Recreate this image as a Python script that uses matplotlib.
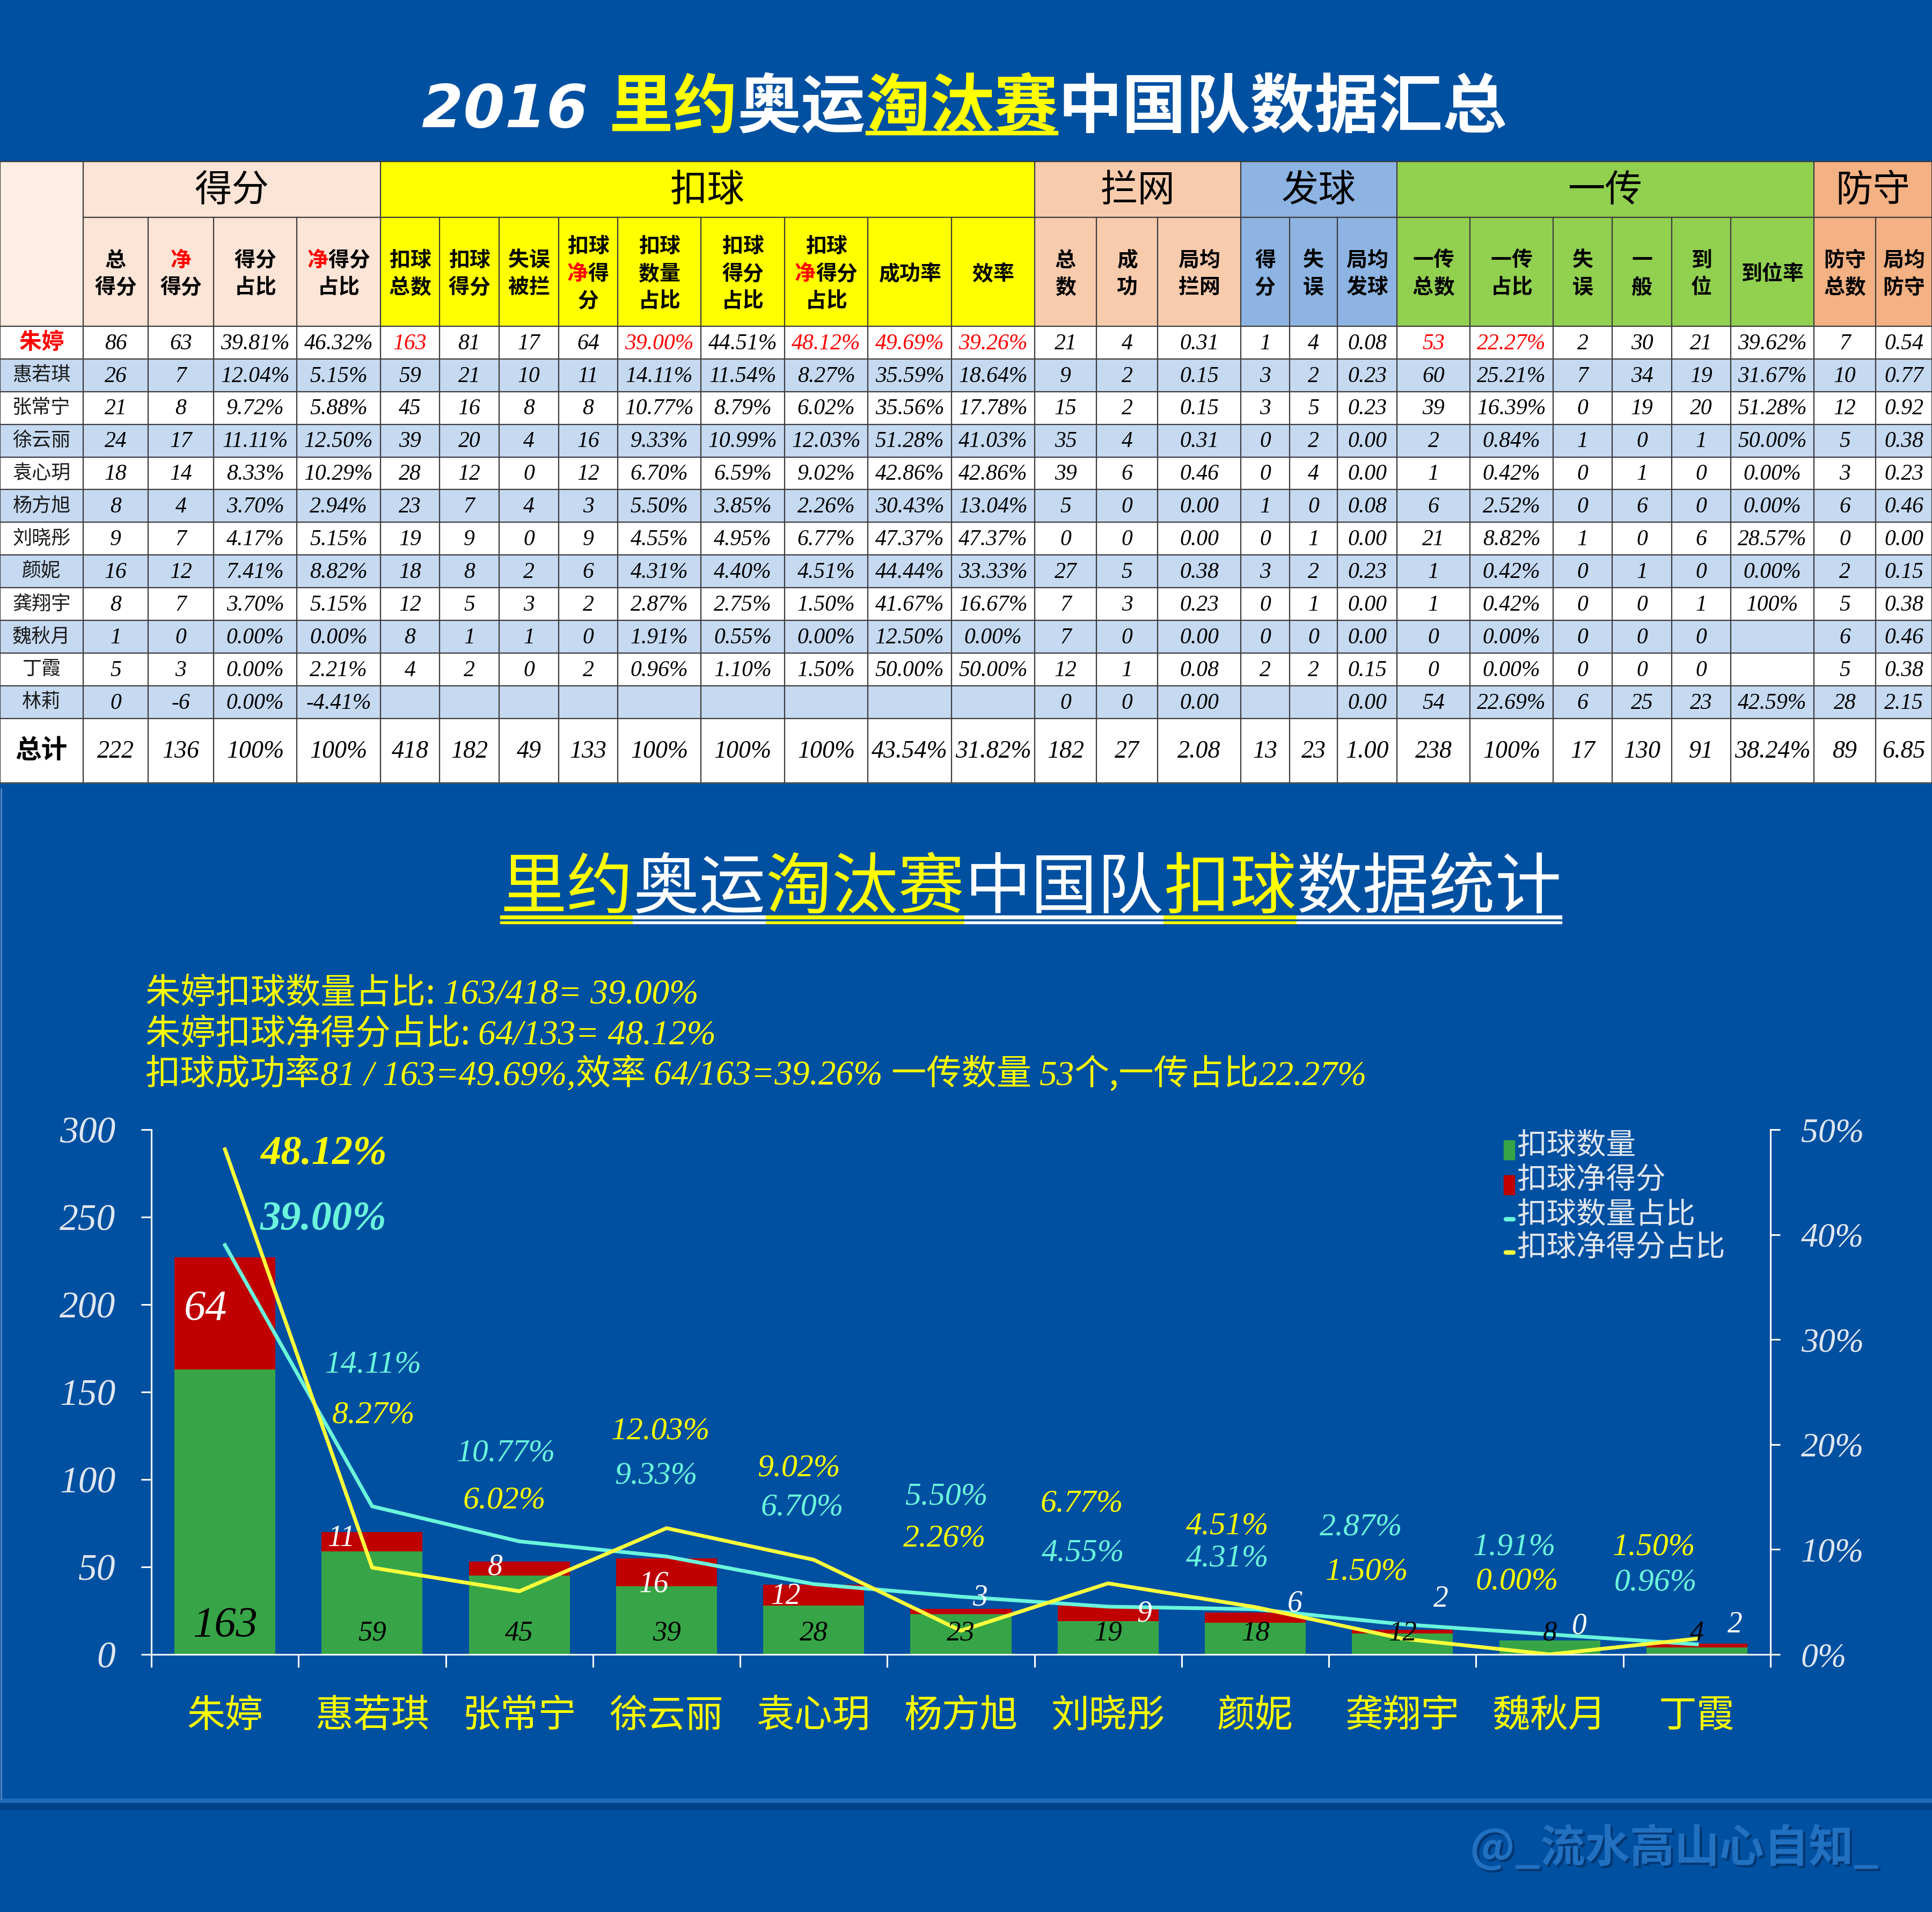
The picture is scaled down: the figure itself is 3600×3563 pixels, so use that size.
import numpy as np
import matplotlib
matplotlib.use('Agg')
import matplotlib.pyplot as plt
import matplotlib.patheffects as pe
from matplotlib.patches import Rectangle
from matplotlib.font_manager import FontProperties

# ---------------- data ----------------
players = ['朱婷', '惠若琪', '张常宁', '徐云丽', '袁心玥', '杨方旭',
           '刘晓彤', '颜妮', '龚翔宇', '魏秋月', '丁霞', '林莉']

# 得分
pts_total = [86, 26, 21, 24, 18, 8, 9, 16, 8, 1, 5, 0]
pts_net = [63, 7, 8, 17, 14, 4, 7, 12, 7, 0, 3, -6]
pts_share = [39.81, 12.04, 9.72, 11.11, 8.33, 3.70, 4.17, 7.41, 3.70, 0.00, 0.00, 0.00]
pts_net_share = [46.32, 5.15, 5.88, 12.50, 10.29, 2.94, 5.15, 8.82, 5.15, 0.00, 2.21, -4.41]
pts_totals = [222, 136, 100, 100]

# 扣球
spike_total = [163, 59, 45, 39, 28, 23, 19, 18, 12, 8, 4, None]
spike_pts = [81, 21, 16, 20, 12, 7, 9, 8, 5, 1, 2, None]
spike_err = [17, 10, 8, 4, 0, 4, 0, 2, 3, 1, 0, None]
spike_net = [64, 11, 8, 16, 12, 3, 9, 6, 2, 0, 2, None]
spike_share = [39.00, 14.11, 10.77, 9.33, 6.70, 5.50, 4.55, 4.31, 2.87, 1.91, 0.96, None]
spike_pts_share = [44.51, 11.54, 8.79, 10.99, 6.59, 3.85, 4.95, 4.40, 2.75, 0.55, 1.10, None]
spike_net_share = [48.12, 8.27, 6.02, 12.03, 9.02, 2.26, 6.77, 4.51, 1.50, 0.00, 1.50, None]
spike_rate = [49.69, 35.59, 35.56, 51.28, 42.86, 30.43, 47.37, 44.44, 41.67, 12.50, 50.00, None]
spike_eff = [39.26, 18.64, 17.78, 41.03, 42.86, 13.04, 47.37, 33.33, 16.67, 0.00, 50.00, None]
spike_totals = [418, 182, 49, 133, 100, 100, 100, 43.54, 31.82]

# 拦网
block_total = [21, 9, 15, 35, 39, 5, 0, 27, 7, 7, 12, 0]
block_ok = [4, 2, 2, 4, 6, 0, 0, 5, 3, 0, 1, 0]
block_avg = [0.31, 0.15, 0.15, 0.31, 0.46, 0.00, 0.00, 0.38, 0.23, 0.00, 0.08, 0.00]
block_totals = [182, 27, 2.08]

# 发球
serve_pts = [1, 3, 3, 0, 0, 1, 0, 3, 0, 0, 2, None]
serve_err = [4, 2, 5, 2, 4, 0, 1, 2, 1, 0, 2, None]
serve_avg = [0.08, 0.23, 0.23, 0.00, 0.00, 0.08, 0.00, 0.23, 0.00, 0.00, 0.15, 0.00]
serve_totals = [13, 23, 1.00]

# 一传
recv_total = [53, 60, 39, 2, 1, 6, 21, 1, 1, 0, 0, 54]
recv_share = [22.27, 25.21, 16.39, 0.84, 0.42, 2.52, 8.82, 0.42, 0.42, 0.00, 0.00, 22.69]
recv_err = [2, 7, 0, 1, 0, 0, 1, 0, 0, 0, 0, 6]
recv_ok = [30, 34, 19, 0, 1, 6, 0, 1, 0, 0, 0, 25]
recv_good = [21, 19, 20, 1, 0, 0, 6, 0, 1, 0, 0, 23]
recv_good_rate = [39.62, 31.67, 51.28, 50.00, 0.00, 0.00, 28.57, 0.00, 100, None, None, 42.59]
recv_totals = [238, 100, 17, 130, 91, 38.24]

# 防守
dig_total = [7, 10, 12, 5, 3, 6, 0, 2, 5, 6, 5, 28]
dig_avg = [0.54, 0.77, 0.92, 0.38, 0.23, 0.46, 0.00, 0.15, 0.38, 0.46, 0.38, 2.15]
dig_totals = [89, 6.85]

# ---------------- style ----------------
BG = '#0050A1'
YEL = '#FFFF00'
WHITE = '#FFFFFF'
RED = '#FF0000'
AXC = '#E1E6EF'
CYAN = '#6AF5DC'
LYEL = '#FFFF3C'
GREEN = '#37A547'
DRED = '#C00000'
CJK = 'Noto Sans CJK SC'
SERIF = 'Liberation Serif'

W, H = 3600, 3563
fig = plt.figure(figsize=(W / 100, H / 100), dpi=100)
fig.patch.set_facecolor(BG)
bg = fig.add_axes([0, 0, 1, 1])
bg.set_xlim(0, W)
bg.set_ylim(H, 0)
bg.axis('off')
renderer = fig.canvas.get_renderer()


def fp(size, family=CJK, weight='normal', style='normal'):
    return FontProperties(family=family, size=size, weight=weight, style=style)


def draw_runs(x, y, parts, ha='left'):
    # draw text pieces side by side on a common baseline, return x spans
    texts, widths = [], []
    for s, color, prop in parts:
        t = bg.text(0, y, s, color=color, fontproperties=prop, ha='left', va='baseline')
        texts.append(t)
        widths.append(t.get_window_extent(renderer).width)
    x0 = x - sum(widths) / 2 if ha == 'center' else x
    spans = []
    for t, w in zip(texts, widths):
        t.set_x(x0)
        spans.append((x0, x0 + w))
        x0 += w
    return spans


def cjk_line(xc, y, s, size, color='black', weight='bold'):
    # one header line, char by char so that 净 can be red
    em = size * 100 / 72
    x0 = xc - len(s) * em / 2
    for k, ch in enumerate(s):
        bg.text(x0 + (k + 0.5) * em, y, ch, ha='center', va='center', fontsize=size,
                color=RED if ch == '净' else color, family=CJK, weight=weight)


def fmt(v, kind):
    if v is None:
        return ''
    if kind == 'p':
        return '100%' if v == 100 else f'{v:.2f}%'
    if kind == 'd':
        return f'{v:.2f}'
    return str(v)


# ---------------- title ----------------
spans = draw_runs(1797, 237, [
    ('2016 ', WHITE, fp(80, 'DejaVu Sans', 'bold', 'italic')),
    ('里约', YEL, fp(86, weight='bold')),
    ('奥运', WHITE, fp(86, weight='bold')),
    ('淘汰赛', YEL, fp(86, weight='bold')),
    ('中国队数据汇总', WHITE, fp(86, weight='bold')),
], ha='center')
bg.add_patch(Rectangle((spans[3][0], 244), spans[3][1] - spans[3][0], 7, color=YEL))

# ---------------- table ----------------
col_edges = [0, 155, 276, 398, 553, 709, 819, 930, 1041, 1151, 1306, 1462, 1617, 1773,
             1928, 2043, 2157, 2312, 2403, 2492, 2603, 2739, 2894, 3004, 3115, 3225, 3380, 3495, 3600]
T0, T1, T2 = 301, 405, 608
ROW_H = 60.9
T3 = T2 + 12 * ROW_H
T4 = 1459

groups = [('得分', 1, 5, '#FCE4D6'), ('扣球', 5, 14, '#FFFF00'), ('拦网', 14, 17, '#F8CBAD'),
          ('发球', 17, 20, '#8DB4E2'), ('一传', 20, 26, '#92D050'), ('防守', 26, 28, '#F4B183')]

columns = [
    ('总\n得分', pts_total, pts_totals[0], 'i', False),
    ('净\n得分', pts_net, pts_totals[1], 'i', False),
    ('得分\n占比', pts_share, pts_totals[2], 'p', False),
    ('净得分\n占比', pts_net_share, pts_totals[3], 'p', False),
    ('扣球\n总数', spike_total, spike_totals[0], 'i', True),
    ('扣球\n得分', spike_pts, spike_totals[1], 'i', False),
    ('失误\n被拦', spike_err, spike_totals[2], 'i', False),
    ('扣球\n净得\n分', spike_net, spike_totals[3], 'i', False),
    ('扣球\n数量\n占比', spike_share, spike_totals[4], 'p', True),
    ('扣球\n得分\n占比', spike_pts_share, spike_totals[5], 'p', False),
    ('扣球\n净得分\n占比', spike_net_share, spike_totals[6], 'p', True),
    ('成功率', spike_rate, spike_totals[7], 'p', True),
    ('效率', spike_eff, spike_totals[8], 'p', True),
    ('总\n数', block_total, block_totals[0], 'i', False),
    ('成\n功', block_ok, block_totals[1], 'i', False),
    ('局均\n拦网', block_avg, block_totals[2], 'd', False),
    ('得\n分', serve_pts, serve_totals[0], 'i', False),
    ('失\n误', serve_err, serve_totals[1], 'i', False),
    ('局均\n发球', serve_avg, serve_totals[2], 'd', False),
    ('一传\n总数', recv_total, recv_totals[0], 'i', True),
    ('一传\n占比', recv_share, recv_totals[1], 'p', True),
    ('失\n误', recv_err, recv_totals[2], 'i', False),
    ('一\n般', recv_ok, recv_totals[3], 'i', False),
    ('到\n位', recv_good, recv_totals[4], 'i', False),
    ('到位率', recv_good_rate, recv_totals[5], 'p', False),
    ('防守\n总数', dig_total, dig_totals[0], 'i', False),
    ('局均\n防守', dig_avg, dig_totals[1], 'd', False),
]

# backgrounds
bg.add_patch(Rectangle((0, T0), col_edges[1], T2 - T0, color='#FDEDE3', zorder=1))
for name, a, b, c in groups:
    bg.add_patch(Rectangle((col_edges[a], T0), col_edges[b] - col_edges[a], T2 - T0, color=c, zorder=1))
    bg.text((col_edges[a] + col_edges[b]) / 2, (T0 + T1) / 2 + 2, name, ha='center', va='center',
            fontsize=50, family=CJK, color='black', zorder=3)
for i in range(12):
    c = '#C5D9F1' if i % 2 == 1 else 'white'
    bg.add_patch(Rectangle((0, T2 + i * ROW_H), W, ROW_H, color=c, zorder=1))
bg.add_patch(Rectangle((0, T3), W, T4 - T3, color='white', zorder=1))

# grid
GC = '#3C3C3C'
group_edges = [g[1] for g in groups] + [28]
for k, xe in enumerate(col_edges):
    top = T0 if k in group_edges or k == 0 else T1
    bg.plot([xe, xe], [top, T4], color=GC, lw=1.6, zorder=2)
bg.plot([0, W], [T0, T0], color=GC, lw=1.6, zorder=2)
bg.plot([col_edges[1], W], [T1, T1], color=GC, lw=1.6, zorder=2)
for i in range(13):
    bg.plot([0, W], [T2 + i * ROW_H] * 2, color=GC, lw=1.6, zorder=2)
bg.plot([0, W], [T4, T4], color=GC, lw=1.6, zorder=2)

# sub headers
for j, (lab, vals, tot, kind, red0) in enumerate(columns):
    xc = (col_edges[j + 1] + col_edges[j + 2]) / 2
    lines = lab.split('\n')
    yc = (T1 + T2) / 2 + 4
    for k, ln in enumerate(lines):
        cjk_line(xc, yc + (k - (len(lines) - 1) / 2) * 51, ln, 28)

# names
for i, nm in enumerate(players):
    yc = T2 + (i + 0.5) * ROW_H
    if i == 0:
        bg.text(col_edges[1] / 2, yc, nm, ha='center', va='center', fontsize=30,
                family=CJK, weight='bold', color=RED, zorder=3)
    else:
        bg.text(col_edges[1] / 2, yc, nm, ha='center', va='center', fontsize=26,
                family=CJK, color='#1A1A1A', zorder=3)
bg.text(col_edges[1] / 2, (T3 + T4) / 2, '总计', ha='center', va='center', fontsize=35,
        family=CJK, weight='bold', color='black', zorder=3)

# values
for j, (lab, vals, tot, kind, red0) in enumerate(columns):
    xc = (col_edges[j + 1] + col_edges[j + 2]) / 2
    for i, v in enumerate(vals):
        yc = T2 + (i + 0.5) * ROW_H
        col = RED if (i == 0 and red0) else 'black'
        bg.text(xc, yc + 2, fmt(v, kind), ha='center', va='center', fontsize=30,
                family=SERIF, style='italic', color=col, zorder=3)
    bg.text(xc, (T3 + T4) / 2 + 2, fmt(tot, kind), ha='center', va='center', fontsize=33,
            family=SERIF, style='italic', color='black', zorder=3)

# ---------------- chart title and notes ----------------
tprop = fp(89)
spans = draw_runs(1921, 1692, [('里约', YEL, tprop), ('奥运', WHITE, tprop), ('淘汰赛', YEL, tprop),
                               ('中国队', WHITE, tprop), ('扣球', YEL, tprop), ('数据统计', WHITE, tprop)],
                  ha='center')
for (a, b), c in zip(spans, [YEL, WHITE, YEL, WHITE, YEL, WHITE]):
    bg.add_patch(Rectangle((a, 1706), b - a, 6, color=c))
    bg.add_patch(Rectangle((a, 1717), b - a, 4, color=c))

nc = fp(47)
nn = fp(47, SERIF, style='italic')
n_tot = sum(v for v in spike_total if v)
n_net = sum(v for v in spike_net if v is not None)
draw_runs(271, 1870, [('朱婷扣球数量占比: ', YEL, nc),
                      (f'{spike_total[0]}/{n_tot}= {spike_share[0]:.2f}%', YEL, nn)])
draw_runs(271, 1946, [('朱婷扣球净得分占比: ', YEL, nc),
                      (f'{spike_net[0]}/{n_net}= {spike_net_share[0]:.2f}%', YEL, nn)])
draw_runs(271, 2021, [('扣球成功率', YEL, nc),
                      (f'{spike_pts[0]} / {spike_total[0]}={spike_rate[0]:.2f}%,', YEL, nn),
                      ('效率 ', YEL, nc),
                      (f'{spike_net[0]}/{spike_total[0]}={spike_eff[0]:.2f}% ', YEL, nn),
                      ('一传数量 ', YEL, nc), (f'{recv_total[0]}', YEL, nn),
                      ('个,一传占比', YEL, nc), (f'{recv_share[0]:.2f}%', YEL, nn)])

# ---------------- chart ----------------
n = 11
xc = np.arange(n) + 0.5
green = np.array(spike_total[:n])
red = np.array(spike_net[:n])
ax = fig.add_axes([282 / W, 1 - 3083 / H, (3299 - 282) / W, (3083 - 2105) / H])
ax.set_facecolor('none')
ax.set_xlim(0, n)
ax.set_ylim(0, 300)
ax.bar(xc, green, width=0.686, color=GREEN, zorder=2)
ax.bar(xc, red, width=0.686, bottom=green, color=DRED, zorder=2)

for s in ['top', 'right']:
    ax.spines[s].set_visible(False)
for s in ['left', 'bottom']:
    ax.spines[s].set_color(WHITE)
    ax.spines[s].set_linewidth(2.2)
ax.set_yticks(np.arange(0, 301, 50))
ax.tick_params(axis='y', colors=WHITE, length=14, width=2.2, pad=34, labelcolor=AXC)
for t in ax.get_yticklabels():
    t.set_fontproperties(fp(50, SERIF, style='italic'))
ax.set_xticks(np.arange(n + 1))
ax.set_xticklabels([])
ax.tick_params(axis='x', which='major', colors=WHITE, length=17, width=2.2)
ax.set_xticks(xc, minor=True)
ax.set_xticklabels(players[:n], minor=True)
ax.tick_params(axis='x', which='minor', length=0, pad=56, labelcolor=YEL)
for t in ax.get_xticklabels(minor=True):
    t.set_fontproperties(fp(51))

ax2 = ax.twinx()
ax2.set_ylim(0, 50)
for s in ['top', 'left', 'bottom']:
    ax2.spines[s].set_visible(False)
ax2.spines['right'].set_color(WHITE)
ax2.spines['right'].set_linewidth(2.2)
ax2.set_yticks(np.arange(0, 51, 10))
ax2.set_yticklabels([f'{v}%' for v in range(0, 51, 10)])
ax2.tick_params(axis='y', colors=WHITE, length=13, width=2.2, pad=28, labelcolor=AXC)
for t in ax2.get_yticklabels():
    t.set_fontproperties(fp(46, SERIF, style='italic'))
ax2.plot(xc, spike_share[:n], color=CYAN, lw=5, zorder=3)
ax2.plot(xc, spike_net_share[:n], color=LYEL, lw=5, zorder=3)

# label placement (x shift in categories, y in left-axis units)
share_pos = [(0.67, 248.6), (0.01, 165.5), (-0.09, 114.8), (-0.07, 102.1), (-0.08, 83.8),
             (-0.10, 90.1), (-0.17, 57.7), (-0.19, 54.9), (-0.28, 72.5), (-0.24, 61.3), (-0.28, 40.8)]
net_share_pos = [(0.67, 285.9), (0.01, 136.6), (-0.10, 88.0), (-0.04, 127.5), (-0.10, 106.3),
                 (-0.11, 66.2), (-0.18, 85.9), (-0.19, 73.2), (-0.24, 47.2), (-0.22, 41.5), (-0.29, 61.3)]
net_pos = [(-0.13, 197.2), (-0.21, 66.2), (-0.165, 50.0), (-0.09, 40.1), (-0.19, 33.1), (0.13, 32.4),
           (0.245, 23.2), (0.27, 28.9), (0.26, 31.7), (0.2, 16.2), (0.26, 16.9)]

for i in range(n):
    big = i == 0
    sz = 55 if big else 43
    wt = 'bold' if big else 'normal'
    dx, yv = share_pos[i]
    ax2.text(xc[i] + dx, yv, f'{spike_share[i]:.2f}%', transform=ax.transData, ha='center',
             va='center', color=CYAN, fontsize=sz, family=SERIF, style='italic', weight=wt, zorder=5)
    dx, yv = net_share_pos[i]
    ax2.text(xc[i] + dx, yv, f'{spike_net_share[i]:.2f}%', transform=ax.transData, ha='center',
             va='center', color=YEL, fontsize=sz, family=SERIF, style='italic', weight=wt, zorder=5)
    dx, yv = net_pos[i]
    ax2.text(xc[i] + dx, yv, str(red[i]), transform=ax.transData, ha='center', va='center',
             color=WHITE, fontsize=58 if big else 40, family=SERIF, style='italic', zorder=5)
    ax2.text(xc[i], 16 if big else 12, str(green[i]), transform=ax.transData, ha='center',
             va='center', color='black', fontsize=58 if big else 38, family=SERIF, style='italic', zorder=5)

# legend
leg_rows = [2135, 2200, 2264, 2326]
leg_labels = ['扣球数量', '扣球净得分', '扣球数量占比', '扣球净得分占比']
for k, (yy, lab) in enumerate(zip(leg_rows, leg_labels)):
    if k < 2:
        bg.add_patch(Rectangle((2802, yy - 10), 20, 36, color=[GREEN, DRED][k], zorder=4))
    else:
        bg.plot([2806, 2820], [yy + 8, yy + 8], color=[CYAN, LYEL][k - 2], lw=6,
                solid_capstyle='round', zorder=4)
    bg.text(2826, yy, lab, ha='left', va='center', fontsize=40, family=CJK, color=AXC, zorder=4)

# decorations
bg.add_patch(Rectangle((0, 3352), W, 8, color='#1F6BB8'))
bg.add_patch(Rectangle((0, 3360), W, 12, color='#00428A'))
bg.plot([1.5, 1.5], [1470, 3352], color='#4F86C6', lw=2)
bg.text(3120, 3444, '@_流水高山心自知_', ha='center', va='center', fontsize=60, weight='bold',
        family=[CJK, 'DejaVu Sans'], color='#2270C0',
        path_effects=[pe.withSimplePatchShadow(offset=(3, -3), shadow_rgbFace='#00356E', alpha=0.9)])

fig.savefig('out.png', dpi=100, facecolor=BG)
